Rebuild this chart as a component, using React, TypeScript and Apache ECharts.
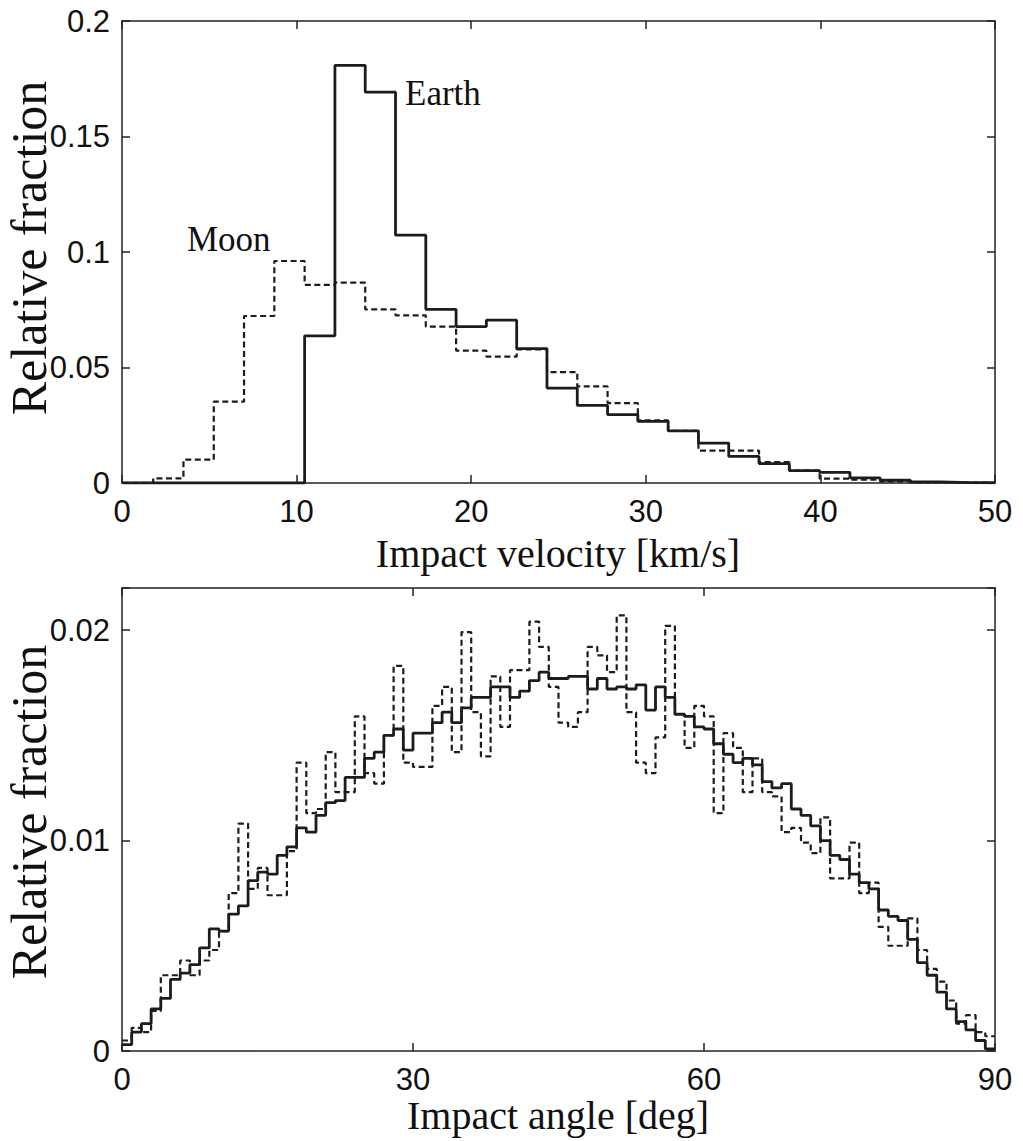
import React, { useEffect, useRef } from "react";
import * as echarts from "echarts";

// ---------- Top panel: impact velocity histogram ----------
const velBinStart = 0.05;
const velBinWidth = 1.735;
const velAxisMax = 50;
const velXTicks = [0, 10, 20, 30, 40, 50];
const velYTicks = [0, 0.05, 0.1, 0.15, 0.2];
const earthVelocity = [
  0, 0, 0, 0, 0, 0, 0.0637, 0.1808, 0.1692, 0.1073, 0.0752, 0.0677, 0.0705,
  0.0582, 0.0411, 0.0336, 0.0296, 0.0267, 0.0226, 0.0173, 0.0115, 0.0084,
  0.0054, 0.0046, 0.0022, 0.0012, 0.0005, 0.0002, 0.0001,
];
const moonVelocity = [
  0.0001, 0.002, 0.0101, 0.0352, 0.0723, 0.0961, 0.0858, 0.0867, 0.0752,
  0.0726, 0.0677, 0.0573, 0.0547, 0.0578, 0.048, 0.0418, 0.0346, 0.0271,
  0.0226, 0.014, 0.014, 0.0091, 0.0054, 0.0019, 0.0014, 0.0007, 0.0003,
  0.0002, 0.0001,
];

// ---------- Bottom panel: impact angle histogram ----------
const angleBinStart = 0;
const angleBinWidth = 1;
const angleAxisMax = 90;
const angleXTicks = [0, 30, 60, 90];
const angleYTicks = [0, 0.01, 0.02];
const angleYMax = 0.022;
const earthAngle = [
  0.0003, 0.0009, 0.0013, 0.002, 0.0025, 0.0034, 0.0037, 0.0041, 0.0049,
  0.0058, 0.0057, 0.0065, 0.0069, 0.0081, 0.0085, 0.0084, 0.0093, 0.0097,
  0.0106, 0.0104, 0.0112, 0.0118, 0.0119, 0.013, 0.013, 0.0139, 0.0142,
  0.015, 0.0153, 0.0143, 0.0151, 0.0151, 0.0156, 0.0161, 0.0156, 0.0163,
  0.0168, 0.0168, 0.0173, 0.0173, 0.0168, 0.0171, 0.0176, 0.018, 0.0177,
  0.0177, 0.0178, 0.0178, 0.0172, 0.0177, 0.0172, 0.0173, 0.0172, 0.0174,
  0.0162, 0.0173, 0.0168, 0.016, 0.0159, 0.0154, 0.0153, 0.0146, 0.0141,
  0.0137, 0.0139, 0.0136, 0.0128, 0.0125, 0.0127, 0.0115, 0.0112, 0.0107,
  0.01, 0.0093, 0.0091, 0.0084, 0.008, 0.0077, 0.0067, 0.0064, 0.0062,
  0.0053, 0.0042, 0.0036, 0.0028, 0.002, 0.0014, 0.001, 0.0005, 0.0001,
];
const moonAngle = [
  0.0005, 0.0011, 0.0009, 0.0019, 0.0036, 0.0036, 0.0043, 0.0036, 0.0043,
  0.0048, 0.0057, 0.0075, 0.0108, 0.0077, 0.0087, 0.0074, 0.0074, 0.0095,
  0.0137, 0.0113, 0.0115, 0.0142, 0.0123, 0.0123, 0.0159, 0.0132, 0.0127,
  0.015, 0.0183, 0.0137, 0.0135, 0.0135, 0.0164, 0.0173, 0.0142, 0.0199,
  0.0161, 0.014, 0.0178, 0.0154, 0.0181, 0.0181, 0.0204, 0.0192, 0.0173,
  0.0156, 0.0154, 0.0161, 0.0192, 0.0188, 0.018, 0.0207, 0.0161, 0.0137,
  0.0132, 0.0149, 0.0202, 0.016, 0.0144, 0.0164, 0.0159, 0.0113, 0.0151,
  0.0144, 0.0123, 0.0139, 0.0123, 0.0121, 0.0104, 0.0106, 0.0099, 0.0094,
  0.0111, 0.0082, 0.0082, 0.0099, 0.0075, 0.008, 0.0059, 0.005, 0.005,
  0.0063, 0.0048, 0.0039, 0.0033, 0.0024, 0.0013, 0.0017, 0.0009, 0.0007,
];

const seriesNames = ["Earth", "Moon"];

function stepPoints(start: number, width: number, values: number[], maxX: number) {
  const pts: number[][] = values.map((v, i) => [Math.min(start + i * width, maxX), v]);
  pts.push([Math.min(start + values.length * width, maxX), values[values.length - 1]]);
  return pts;
}

const AXIS_COLOR = "#222";
const LINE_COLOR = "#1c1c1c";
const SANS = "'Liberation Sans', Arial, Helvetica, sans-serif";
const SERIF = "'Liberation Serif', 'Times New Roman', serif";
const TICK_FONT = 31;

function makeX(gridIndex: number, max: number, interval: number, position: "bottom" | "top") {
  return {
    gridIndex,
    type: "value",
    min: 0,
    max,
    interval,
    position,
    axisLine: { show: true, onZero: false, lineStyle: { color: AXIS_COLOR, width: 1.5 } },
    axisTick: { show: true, inside: true, length: 8, lineStyle: { color: AXIS_COLOR, width: 1.5 } },
    axisLabel: {
      show: position === "bottom",
      fontFamily: SANS,
      fontSize: TICK_FONT,
      lineHeight: 28,
      color: "#111",
      margin: 14,
    },
    splitLine: { show: false },
  };
}

function makeY(
  gridIndex: number,
  max: number,
  interval: number,
  position: "left" | "right",
  ticks: number[]
) {
  return {
    gridIndex,
    type: "value",
    min: 0,
    max,
    interval,
    position,
    axisLine: { show: true, onZero: false, lineStyle: { color: AXIS_COLOR, width: 1.5 } },
    axisTick: { show: true, inside: true, length: 8, lineStyle: { color: AXIS_COLOR, width: 1.5 } },
    axisLabel: {
      show: position === "left",
      fontFamily: SANS,
      fontSize: TICK_FONT,
      color: "#111",
      margin: 12,
      formatter: (v: number) => {
        const hit = ticks.find((t) => Math.abs(t - v) < 1e-9);
        return hit === undefined ? "" : String(hit);
      },
    },
    splitLine: { show: false },
  };
}

export default function App() {
  const ref = useRef<HTMLDivElement>(null);

  useEffect(() => {
    if (!ref.current) return;
    const chart = echarts.init(ref.current, null, { renderer: "svg" });

    const solid = { color: LINE_COLOR, width: 2.8, type: "solid" };
    const dashed = { color: LINE_COLOR, width: 2.2, type: [6, 3.5] };

    const yTitle = (y: number) => ({
      type: "text",
      x: 29,
      y,
      rotation: Math.PI / 2,
      style: {
        text: "Relative fraction",
        font: `50px ${SERIF}`,
        fill: "#111",
        textAlign: "center",
        textVerticalAlign: "middle",
      },
    });

    const xTitle = (text: string, y: number) => ({
      type: "text",
      x: 558,
      y,
      style: {
        text,
        font: `40px ${SERIF}`,
        fill: "#111",
        textAlign: "center",
        textVerticalAlign: "middle",
      },
    });

    const option: any = {
      animation: false,
      backgroundColor: "#ffffff",
      grid: [
        { left: 122, right: 28, top: 21, height: 462 },
        { left: 122, right: 28, top: 588, height: 463 },
      ],
      xAxis: [
        makeX(0, velAxisMax, velXTicks[1] - velXTicks[0], "bottom"),
        makeX(0, velAxisMax, velXTicks[1] - velXTicks[0], "top"),
        makeX(1, angleAxisMax, angleXTicks[1] - angleXTicks[0], "bottom"),
        makeX(1, angleAxisMax, angleXTicks[1] - angleXTicks[0], "top"),
      ],
      yAxis: [
        makeY(0, velYTicks[velYTicks.length - 1], velYTicks[1] - velYTicks[0], "left", velYTicks),
        makeY(0, velYTicks[velYTicks.length - 1], velYTicks[1] - velYTicks[0], "right", velYTicks),
        makeY(1, angleYMax, angleYTicks[1] - angleYTicks[0], "left", angleYTicks),
        makeY(1, angleYMax, angleYTicks[1] - angleYTicks[0], "right", angleYTicks),
      ],
      series: [
        {
          name: seriesNames[1] + " velocity",
          type: "line",
          xAxisIndex: 0,
          yAxisIndex: 0,
          step: "end",
          symbol: "none",
          clip: true,
          lineStyle: dashed,
          data: stepPoints(velBinStart, velBinWidth, moonVelocity, velAxisMax),
          z: 2,
        },
        {
          name: seriesNames[0] + " velocity",
          type: "line",
          xAxisIndex: 0,
          yAxisIndex: 0,
          step: "end",
          symbol: "none",
          clip: true,
          lineStyle: solid,
          data: stepPoints(velBinStart, velBinWidth, earthVelocity, velAxisMax),
          z: 3,
        },
        {
          name: seriesNames[1] + " angle",
          type: "line",
          xAxisIndex: 2,
          yAxisIndex: 2,
          step: "end",
          symbol: "none",
          clip: true,
          lineStyle: dashed,
          data: stepPoints(angleBinStart, angleBinWidth, moonAngle, angleAxisMax),
          z: 2,
        },
        {
          name: seriesNames[0] + " angle",
          type: "line",
          xAxisIndex: 2,
          yAxisIndex: 2,
          step: "end",
          symbol: "none",
          clip: true,
          lineStyle: solid,
          data: stepPoints(angleBinStart, angleBinWidth, earthAngle, angleAxisMax),
          z: 3,
        },
      ],
      graphic: [
        yTitle(248),
        yTitle(812),
        xTitle("Impact velocity [km/s]", 553),
        xTitle("Impact angle [deg]", 1115),
        {
          type: "text",
          x: 405,
          y: 93,
          style: {
            text: seriesNames[0],
            font: `35px ${SERIF}`,
            fill: "#111",
            textAlign: "left",
            textVerticalAlign: "middle",
          },
        },
        {
          type: "text",
          x: 187,
          y: 239,
          style: {
            text: seriesNames[1],
            font: `35px ${SERIF}`,
            fill: "#111",
            textAlign: "left",
            textVerticalAlign: "middle",
          },
        },
      ],
    };

    chart.setOption(option);
    return () => chart.dispose();
  }, []);

  return (
    <div
      ref={ref}
      style={{ position: "fixed", left: 0, top: 0, width: 1023, height: 1141, background: "#fff" }}
    />
  );
}
